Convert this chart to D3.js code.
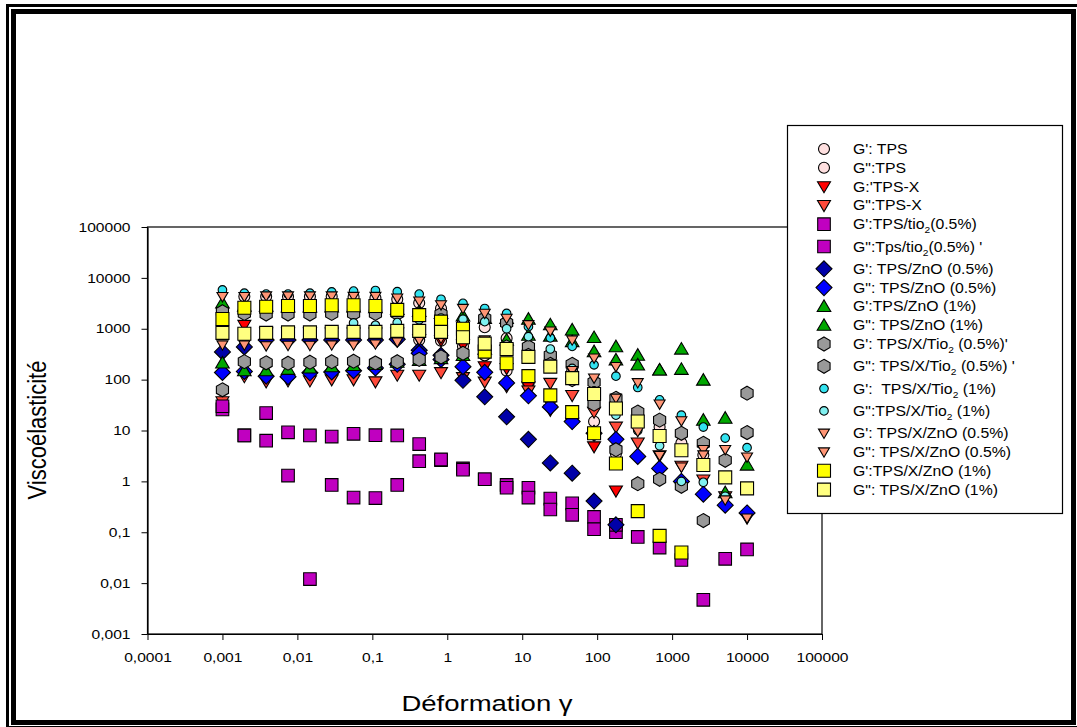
<!DOCTYPE html>
<html>
<head>
<meta charset="utf-8">
<script src="https://cdn.jsdelivr.net/npm/d3@7"></script>
<style>
body { margin: 0; background: #fff; }
svg { display: block; font-family: Arial, "Liberation Sans", sans-serif; }
</style>
</head>
<body>
<svg id="chart" width="1077" height="727"></svg>
<script>
const _ = null

// strain (x) for every measurement point
const strain = [0.001, 0.00196, 0.00383, 0.0075, 0.0147, 0.0287, 0.0562, 0.110, 0.215, 0.422, 0.825, 1.62, 3.16, 6.19, 12.1, 23.7, 46.4, 90.9, 178, 348, 681, 1330, 2610, 5110, 10000]

// moduli, one array per series
const tpsG1      = [_, 4300, 4300, 4300, 4300, 4300, 4200, 4000, 3800, 3200, 2500, 1400, 1070, 650, 450, 280, 150, 60, 30, 18, 11.7, 5.7, 3.3, _, _]
const tpsG2      = [1030, 700, 630, 630, 630, 630, 630, 630, 620, 600, 580, 450, 300, 150, 80, 40, 20, 15, 3.5, _, _, _, _, _, _]
const tpsxG1     = [_, 1170, 830, 830, 830, 830, 830, 830, 830, 620, 590, 480, 180, 166, 73, 25, 14, 4.8, 0.65, _, _, _, _, _, _]
const tpsxG2     = [37, 115, 91, 95, 95, 100, 100, 91, 123, 123, 138, 110, 90, 73, 60, 85, 49, 23, 11.7, 5.7, 3.2, 2, 1.07, 0.5, 0.19]
const tioG1      = [26, 8, 22, 9.2, 8, 7.6, 8.6, 8.1, 8, 5.4, 2.6, 1.8, 1.1, 0.85, 0.75, 0.46, 0.37, 0.2, 0.1, 0.081, 0.05, 0.0285, 0.0047, 0.03, 0.046]
const tioG2      = [30, 8, 6.3, 1.3, 0.012, 0.85, 0.48, 0.47, 0.85, 2.5, 2.7, 1.7, 1.1, 0.75, 0.48, 0.28, 0.22, 0.115, 0.14, _, _, _, _, _, _]
const znoHalfG1  = [350, 440, 600, 600, 600, 600, 600, 600, 620, 380, 300, 97, 46, 18.6, 6.7, 2.3, 1.45, 0.41, 0.14, _, _, _, _, _, _]
const znoHalfG2  = [138, 145, 117, 114, 136, 142, 150, 170, 200, 330, 250, 180, 139, 86, 48, 29, 15, 8.8, 6.7, 3.1, 1.8, 1.0, 0.56, 0.34, 0.24]
const znoOneG1   = [3240, 2800, 2800, 2700, 2700, 2700, 2700, 2600, 2400, 2200, 2000, 1800, 1600, 1600, 1550, 1200, 950, 675, 445, 303, 155, 400, 98, 17.5, 2.1]
const znoOneG2   = [213, 150, 150, 160, 170, 180, 190, 200, 220, 240, 260, 300, 400, 600, 750, 720, 560, 355, 244, 195, 155, 160, 16, 0.6, _]
const xTioHalfG1 = [2160, 2000, 1950, 1950, 1950, 2000, 2000, 2000, 2000, 1900, 1920, 1020, 1590, 1300, 440, 300, 200, 89, 43, 23, 16, 8.8, 5.6, 2.6, 9.1]
const xTioHalfG2 = [63, 226, 214, 210, 220, 225, 230, 213, 225, 250, 280, 330, 400, 440, 300, 200, 100, 33, 4.2, 0.9, 1.1, 0.8, 0.17, _, 54]
const xTioOneG1  = [5800, 5000, 4800, 4800, 5000, 5300, 5500, 5650, 5350, 4800, 3800, 3160, 2500, 2000, 1100, 660, 450, 195, 117, 70, 40, 20, 11.7, 7.1, 4.6]
const xTioOneG2  = [_, _, _, _, _, _, 1300, 1170, 1320, 1500, 1620, 1540, 1380, 1000, 700, 400, 166, 60, 20, 10, 5, 1.0, 0.96, 0.51, _]
const xZnoHalfG1 = [4270, 4270, 4400, 4400, 4400, 4400, 4300, 4300, 4000, 3500, 2940, 2500, 2000, 1600, 1200, 900, 600, 265, 180, 87, 33, 15.5, 4.2, 4.2, 3.0]
const xZnoHalfG2 = [480, 480, 460, 470, 470, 480, 480, 500, 550, 600, 650, 700, 600, 400, 300, 200, 150, 107, 43, 9.5, 3.2, 1.9, 3.3, 0.43, 0.19]
const xZnoOneG1  = [1550, 2580, 2700, 2800, 2800, 2900, 2900, 2800, 2350, 1850, 1380, 1000, 355, 210, 117, 49, 23, 8.8, 2.25, 0.26, 0.085, 0.04, _, _, _]
const xZnoOneG2  = [830, 800, 830, 850, 850, 870, 870, 870, 910, 910, 870, 680, 510, 400, 280, 180, 107, 52, 27, 15, 7.8, 4.1, 2.1, 1.2, 0.73]

// legend labels ({2} = subscript)
const labels = [
    "G': TPS", "G\":TPS", "G:'TPS-X", "G\":TPS-X",
    "G':TPS/tio{2}(0.5%)", "G\":Tps/tio{2}(0.5%) '",
    "G': TPS/ZnO (0.5%)", "G\": TPS/ZnO (0.5%)",
    "G':TPS/ZnO (1%)", "G\": TPS/ZnO (1%)",
    "G': TPS/X/Tio{2} (0.5%)'", "G\": TPS/X/Tio{2} (0.5%) '",
    "G':  TPS/X/Tio{2} (1%)", "G\":TPS/X/Tio{2} (1%)",
    "G': TPS/X/ZnO (0.5%)", "G\": TPS/X/ZnO (0.5%)",
    "G':TPS/X/ZnO (1%)", "G\": TPS/X/ZnO (1%)"
]
const seriesValues = [tpsG1, tpsG2, tpsxG1, tpsxG2, tioG1, tioG2, znoHalfG1, znoHalfG2,
    znoOneG1, znoOneG2, xTioHalfG1, xTioHalfG2, xTioOneG1, xTioOneG2,
    xZnoHalfG1, xZnoHalfG2, xZnoOneG1, xZnoOneG2]

const xTicks = [1e-4, 1e-3, 1e-2, 1e-1, 1, 10, 100, 1000, 10000, 100000]
const xTickLabels = ["0,0001", "0,001", "0,01", "0,1", "1", "10", "100", "1000", "10000", "100000"]
const yTicks = [1e-3, 1e-2, 1e-1, 1, 10, 100, 1000, 10000, 100000]
const yTickLabels = ["0,001", "0,01", "0,1", "1", "10", "100", "1000", "10000", "100000"]

// marker shapes, drawn as d3 symbol types (size = half width)
const shapes = {
    circle: { draw(c, r) { c.moveTo(r, 0); c.arc(0, 0, r, 0, 2 * Math.PI) } },
    square: { draw(c, r) { c.rect(-r, -r, 2 * r, 2 * r) } },
    diamond: { draw(c, r) { c.moveTo(0, -r); c.lineTo(r, 0); c.lineTo(0, r); c.lineTo(-r, 0); c.closePath() } },
    triDown: { draw(c, r) { c.moveTo(-r, -0.75 * r); c.lineTo(r, -0.75 * r); c.lineTo(0, 0.95 * r); c.closePath() } },
    triUp: { draw(c, r) { c.moveTo(-r, 0.75 * r); c.lineTo(r, 0.75 * r); c.lineTo(0, -0.95 * r); c.closePath() } },
    hexagon: { draw(c, r) {
        for (let i = 0; i < 6; i++) {
            let a = (-90 + 60 * i) * Math.PI / 180
            if (i == 0) c.moveTo(r * Math.cos(a), r * Math.sin(a))
            else c.lineTo(r * Math.cos(a), r * Math.sin(a))
        }
        c.closePath()
    } }
}

const styles = [
    { shape: "circle", fill: "#ffe0e0", r: 5.5 },
    { shape: "circle", fill: "#ffe0e0", r: 5.5 },
    { shape: "triDown", fill: "#ff0000", r: 6.5 },
    { shape: "triDown", fill: "#ff4a3a", r: 6.5 },
    { shape: "square", fill: "#c000c0", r: 6.3 },
    { shape: "square", fill: "#c000c0", r: 6.3 },
    { shape: "diamond", fill: "#0000a8", r: 8 },
    { shape: "diamond", fill: "#0000ff", r: 8 },
    { shape: "triUp", fill: "#00a800", r: 6.8 },
    { shape: "triUp", fill: "#00a800", r: 6.8 },
    { shape: "hexagon", fill: "#999999", r: 7 },
    { shape: "hexagon", fill: "#999999", r: 7 },
    { shape: "circle", fill: "#33e3f0", r: 4.3 },
    { shape: "circle", fill: "#80f0f0", r: 4.3 },
    { shape: "triDown", fill: "#ff9575", r: 5.5 },
    { shape: "triDown", fill: "#ff9575", r: 5.5 },
    { shape: "square", fill: "#ffff00", r: 6.5 },
    { shape: "square", fill: "#ffff80", r: 6.5 }
]

const svg = d3.select("#chart")
svg.append("rect").attr("width", 1077).attr("height", 727).attr("fill", "white")

// double frame around the figure
svg.append("rect").attr("x", 7.5).attr("y", 5.5).attr("width", 1073).attr("height", 722)
    .attr("fill", "none").attr("stroke", "black").attr("stroke-width", 3)
svg.append("rect").attr("x", 13.5).attr("y", 11.5).attr("width", 1060).attr("height", 711)
    .attr("fill", "none").attr("stroke", "black").attr("stroke-width", 5)

let plotLeft = 147.5
let plotRight = 822
let plotTop = 227
let plotBottom = 634

let xscale = d3.scaleLog().domain([1e-4, 1e5]).range([plotLeft, plotRight])
let yscale = d3.scaleLog().domain([1e-3, 1e5]).range([plotBottom, plotTop])

let textStretch = 1.2

// plot frame
svg.append("rect").attr("x", plotLeft).attr("y", plotTop)
    .attr("width", plotRight - plotLeft).attr("height", plotBottom - plotTop)
    .attr("fill", "none").attr("stroke", "black").attr("stroke-width", 1.2)

let yAxis = d3.axisLeft(yscale).tickValues(yTicks).tickSize(6).tickSizeOuter(0).tickPadding(0)
    .tickFormat((d, i) => yTickLabels[i])
let gy = svg.append("g").attr("transform", "translate(" + plotLeft + ",0)").call(yAxis)
gy.selectAll("text").attr("font-size", 13).attr("font-family", "Arial, Liberation Sans")
    .attr("x", -17 / textStretch).attr("transform", "scale(" + textStretch + ",1)").attr("fill", "black")

let xAxis = d3.axisBottom(xscale).tickValues(xTicks).tickSize(6).tickSizeOuter(0).tickPadding(0)
    .tickFormat((d, i) => xTickLabels[i])
let gx = svg.append("g").attr("transform", "translate(0," + plotBottom + ")").call(xAxis)
gx.selectAll("text").attr("font-size", 13).attr("font-family", "Arial, Liberation Sans")
    .attr("y", 28).attr("dy", 0).attr("transform", "scale(" + textStretch + ",1)").attr("fill", "black")
svg.selectAll(".domain").attr("stroke-width", 1.2)

// axis titles
svg.append("g").attr("transform", "translate(487,711) scale(1.25,1)")
    .append("text").attr("text-anchor", "middle").attr("font-size", 22).text("Déformation γ")
svg.append("g").attr("transform", "translate(46,430) rotate(-90) scale(1,1.15)")
    .append("text").attr("text-anchor", "middle").attr("font-size", 22).text("Viscoélasticité")

// points
let symbolGen = d3.symbol()
seriesValues.forEach((values, s) => {
    let pts = values.map((v, i) => [strain[i], v]).filter(d => d[1] != null)
    svg.append("g").selectAll("path")
        .data(pts)
        .enter()
        .append("path")
        .attr("transform", d => "translate(" + xscale(d[0]) + "," + yscale(d[1]) + ")")
        .attr("d", symbolGen.type(shapes[styles[s].shape]).size(styles[s].r)())
        .attr("fill", styles[s].fill)
        .attr("stroke", "black")
        .attr("stroke-width", 1.1)
})

// legend
svg.append("rect").attr("x", 787.5).attr("y", 125.5).attr("width", 275).attr("height", 388)
    .attr("fill", "white").attr("stroke", "black").attr("stroke-width", 1.2)
let rowY = 149
labels.forEach((label, s) => {
    if (s > 0) rowY += 18.8 + (labels[s - 1].includes("{") ? 3.5 : 0)
    svg.append("path")
        .attr("transform", "translate(824," + rowY + ")")
        .attr("d", symbolGen.type(shapes[styles[s].shape]).size(styles[s].r)())
        .attr("fill", styles[s].fill).attr("stroke", "black").attr("stroke-width", 1.1)
    let t = svg.append("g").attr("transform", "translate(853," + (rowY + 5) + ") scale(1.13,1)")
        .append("text").attr("font-size", 14).style("white-space", "pre")
    label.split(/\{(.*?)\}/).forEach((part, j) => {
        if (j % 2 == 1) {
            t.append("tspan").attr("font-size", 9).attr("dy", 4).text(part)
        } else {
            t.append("tspan").attr("dy", j > 0 ? -4 : 0).text(part)
        }
    })
})
</script>
</body>
</html>
